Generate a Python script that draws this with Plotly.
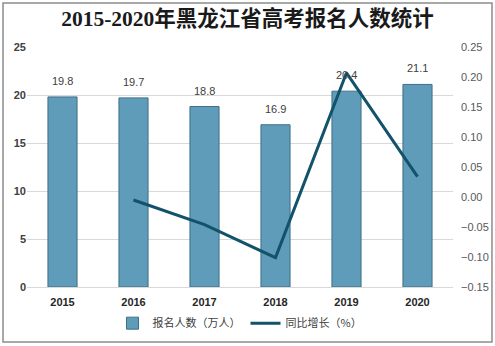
import plotly.graph_objects as go

years = ["2015", "2016", "2017", "2018", "2019", "2020"]
applicants = [19.8, 19.7, 18.8, 16.9, 20.4, 21.1]
growth_years = ["2016", "2017", "2018", "2019", "2020"]
growth = [-0.005, -0.046, -0.101, 0.207, 0.034]

fig = go.Figure()
fig.add_trace(go.Bar(
    x=years, y=applicants, name="报名人数（万人）",
    marker=dict(color="#5f9cba", line=dict(color="#3f6f86", width=1)),
    width=0.41,
))
fig.add_trace(go.Scatter(
    x=growth_years, y=growth, name="同比增长（%）", yaxis="y2",
    mode="lines", line=dict(color="#12536b", width=3),
))

annotations = [
    dict(x=years.index(yr), y=v, xref="x", yref="y", text=f"{v:.1f}", showarrow=False,
         yshift=16, font=dict(size=11, color="#404040", family="Liberation Sans, Arial"))
    for yr, v in zip(years, applicants)
]

fig.update_layout(
    width=495, height=346,
    margin=dict(l=27, r=42, t=47, b=59, autoexpand=False),
    paper_bgcolor="white", plot_bgcolor="white",
    title=dict(text="<b>2015-2020年黑龙江省高考报名人数统计</b>",
               x=0.5, xanchor="center", y=0.948, yanchor="middle",
               font=dict(size=21.5, color="#1a1a1a",
                         family="Liberation Serif, Noto Sans CJK SC")),
    xaxis=dict(type="category", categoryorder="array", categoryarray=years,
               tickfont=dict(size=11, color="#262626",
               family="Liberation Sans, Arial"), tickprefix="<b>", ticksuffix="</b>",
               showline=True, linecolor="#d9d9d9", ticks="", showgrid=False,
               ticklabelstandoff=5, automargin=False),
    yaxis=dict(range=[0, 25], dtick=5, showgrid=True, gridcolor="#d9d9d9",
               tickprefix="<b>", ticksuffix="</b>", zeroline=False, automargin=False,
               tickfont=dict(size=11, color="#404040", family="Liberation Sans, Arial")),
    yaxis2=dict(range=[-0.15, 0.25], dtick=0.05, tickformat=".2f", overlaying="y",
                side="right", showgrid=False, zeroline=False, automargin=False,
                ticklabelstandoff=7,
                tickfont=dict(size=11, color="#595959", family="Liberation Sans, Arial")),
    legend=dict(orientation="h", x=0.5, xanchor="center", yref="container",
                y=0.066, yanchor="middle",
                font=dict(size=11, color="#404040", family="Noto Sans CJK SC"),
                itemwidth=30),
    bargap=0.59,
    showlegend=True,
    annotations=annotations,
    shapes=[dict(type="rect", xref="paper", yref="paper",
                 x0=-0.0563, x1=1.0915, y0=-0.229, y1=1.1833,
                 line=dict(color="#8c8c8c", width=1.5), fillcolor="rgba(0,0,0,0)")],
)

fig.write_html("out.html")
